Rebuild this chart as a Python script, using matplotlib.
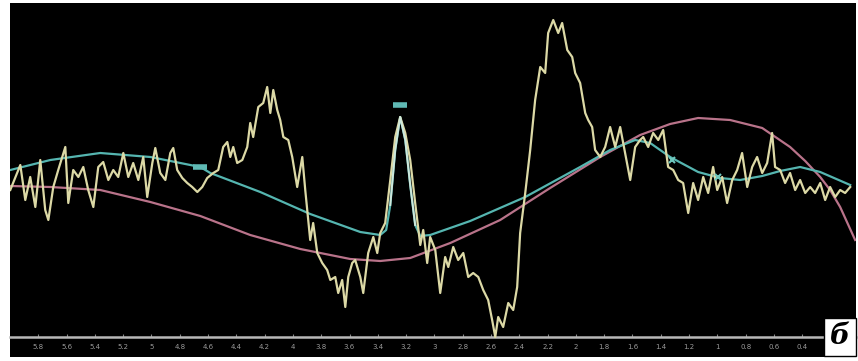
import matplotlib
matplotlib.use("Agg")
import matplotlib.pyplot as plt

# spectrum (yellow trace): chemical shift, ppm / intensity
shift = [5.998, 5.927, 5.892, 5.857, 5.821, 5.786, 5.751, 5.729, 5.694, 5.659,
         5.609, 5.588, 5.553, 5.517, 5.482, 5.447, 5.411, 5.376, 5.341, 5.305,
         5.270, 5.235, 5.199, 5.164, 5.129, 5.093, 5.058, 5.030, 4.994, 4.973,
         4.938, 4.902, 4.867, 4.846, 4.818, 4.782, 4.747, 4.712, 4.676, 4.641,
         4.606, 4.563, 4.528,
         4.493, 4.464, 4.443, 4.422, 4.394, 4.358, 4.323, 4.302, 4.281, 4.245,
         4.210, 4.182, 4.160, 4.139, 4.111, 4.090, 4.068, 4.033, 4.005, 3.970,
         3.934, 3.913, 3.892, 3.878, 3.857, 3.828, 3.793, 3.758, 3.736, 3.701,
         3.680, 3.652, 3.630, 3.609, 3.581, 3.560, 3.524, 3.503, 3.468, 3.432,
         3.404, 3.383, 3.348, 3.312, 3.277, 3.242, 3.206, 3.171, 3.136, 3.100,
         3.079, 3.051, 3.030, 2.994, 2.959, 2.924, 2.902, 2.867, 2.832, 2.796,
         2.761, 2.726, 2.690, 2.655, 2.620, 2.592, 2.570, 2.549, 2.514, 2.478,
         2.443, 2.415, 2.394, 2.358, 2.323, 2.288, 2.252, 2.217, 2.196, 2.160,
         2.125, 2.097, 2.061, 2.026, 2.005, 1.970, 1.934, 1.913, 1.885, 1.864,
         1.828, 1.793, 1.758, 1.722, 1.687, 1.652, 1.616, 1.581, 1.546,
         1.524, 1.489, 1.454, 1.418, 1.383, 1.348, 1.312, 1.277, 1.242, 1.206,
         1.171, 1.136, 1.100, 1.065, 1.030, 1.001, 0.966, 0.931, 0.895, 0.860,
         0.825, 0.789, 0.754, 0.719, 0.683, 0.648, 0.613, 0.592, 0.556, 0.521,
         0.486, 0.450, 0.415, 0.379, 0.344, 0.309, 0.273, 0.238, 0.203, 0.167,
         0.132, 0.097, 0.061]
signal = [147, 172, 137, 160, 130, 177, 127, 117, 150, 167,
          190, 134, 167, 160, 170, 147, 130, 170, 175, 157,
          167, 160, 184, 160, 174, 157, 180, 140, 174, 189,
          164, 157, 184, 189, 167, 159, 154, 150, 145, 150,
          159, 164, 167,
          190, 195, 180, 190, 174, 177, 190, 214, 200, 230,
          234, 250, 224, 247, 227, 217, 200, 197, 180, 150,
          180, 147, 117, 97, 114, 84, 74, 67, 57, 60,
          44, 57, 30, 60, 74, 77, 60, 44, 84, 100,
          84, 104, 114, 157, 200, 220, 204, 177, 134, 92,
          107, 74, 100, 87, 44, 80, 70, 90, 77, 84,
          60, 64, 60, 47, 37, 17, 0, 20, 10, 34,
          27, 50, 104, 144, 187, 237, 270, 264, 304, 317,
          304, 314, 287, 280, 264, 254, 224, 217, 210, 187,
          180, 190, 210, 190, 210, 184, 157, 190, 197,
          200, 190, 204, 197, 207, 170, 167, 157, 154, 124,
          154, 137, 160, 144, 170, 147, 160, 134, 157, 167,
          184, 150, 170, 180, 164, 174, 204, 170, 167, 154,
          164, 147, 157, 144, 150, 144, 154, 137, 150, 140,
          147, 144, 150]

# fitted curve (cyan)
fit_shift = [5.998, 5.715, 5.362, 5.008, 4.655, 4.584, 4.231, 3.878, 3.524, 3.383,
             3.341, 3.312, 3.277, 3.242, 3.206, 3.171, 3.136, 3.100, 3.030, 2.747,
             2.358, 1.970, 1.758, 1.581, 1.475, 1.334, 1.136, 0.980, 0.839, 0.683,
             0.556, 0.415, 0.273, 0.061]
fit_val = [167, 177, 184, 180, 170, 164, 145, 123, 105, 102,
           107, 132, 187, 220, 197, 152, 112, 101, 102, 116,
           140, 170, 187, 197, 194, 180, 165, 159, 157, 161,
           166, 170, 165, 152]

# baseline (pink)
base_shift = [5.998, 5.715, 5.362, 5.008, 4.655, 4.302, 3.948, 3.595, 3.383, 3.171,
              2.888, 2.535, 2.182, 1.828, 1.546, 1.334, 1.136, 0.910, 0.683, 0.486,
              0.379, 0.273, 0.203, 0.132, 0.026]
base_val = [151, 150, 147, 135, 121, 102, 88, 78, 76, 79,
            94, 117, 149, 180, 202, 213, 219, 217, 209, 190,
            176, 160, 147, 130, 97]

# small peak labels of the program
mark_shift = [4.655, 3.242]
mark_val = [170, 232]
cross_shift = [1.320, 0.998]
cross_val = [177, 160]

ticks = [5.8, 5.6, 5.4, 5.2, 5.0, 4.8, 4.6, 4.4, 4.2, 4.0, 3.8, 3.6, 3.4, 3.2, 3.0,
         2.8, 2.6, 2.4, 2.2, 2.0, 1.8, 1.6, 1.4, 1.2, 1.0, 0.8, 0.6, 0.4, 0.2]
# last label sits under the "б" box
tick_labels = ['5.8', '5.6', '5.4', '5.2', '5', '4.8', '4.6', '4.4', '4.2', '4', '3.8',
               '3.6', '3.4', '3.2', '3', '2.8', '2.6', '2.4', '2.2', '2', '1.8', '1.6',
               '1.4', '1.2', '1', '0.8', '0.6', '0.4', '']

fig = plt.figure(figsize=(8.58, 3.61), dpi=100, facecolor='white')
ax = fig.add_axes([10 / 858, 4 / 361, 846 / 858, 354 / 361])
ax.set_facecolor('black')

ax.plot(base_shift, base_val, color='#b9738a', lw=1.6, zorder=2)
ax.plot(fit_shift, fit_val, color='#55b5b0', lw=1.6, zorder=2)
ax.plot(shift, signal, color='#dcd9a6', lw=1.6, zorder=3)
ax.plot(fit_shift[11:17], fit_val[11:17], color='#cfe8dc', lw=1.4, zorder=4)

ax.plot(mark_shift, mark_val, ls='none', marker='_', ms=10, mew=4, color='#5fb9b4', zorder=5)
ax.plot(cross_shift, cross_val, ls='none', marker='x', ms=5, mew=1.5, color='#6fc7bd', zorder=5)

ax.set_xlim(6.0, 0.02)
ax.set_ylim(-20, 334)

for s in ['top', 'left', 'right']:
    ax.spines[s].set_visible(False)
ax.spines['bottom'].set_position(('data', 0))
ax.spines['bottom'].set_color('#b8b8b8')
ax.spines['bottom'].set_linewidth(1.8)
ax.set_yticks([])
ax.set_xticks(ticks)
ax.set_xticklabels(tick_labels)
ax.tick_params(axis='x', direction='in', length=2, color='#888888', labelsize=5,
               labelcolor='#9a9a9a', pad=5)

fig.text(840 / 858, 1 - 337 / 361, 'б', fontsize=20, fontstyle='italic', fontweight='bold',
         family='DejaVu Serif', ha='center', va='center', color='black',
         bbox=dict(boxstyle='square,pad=0.2', fc='white', ec='black', lw=1))

fig.savefig('out.png', dpi=100, facecolor='white')
